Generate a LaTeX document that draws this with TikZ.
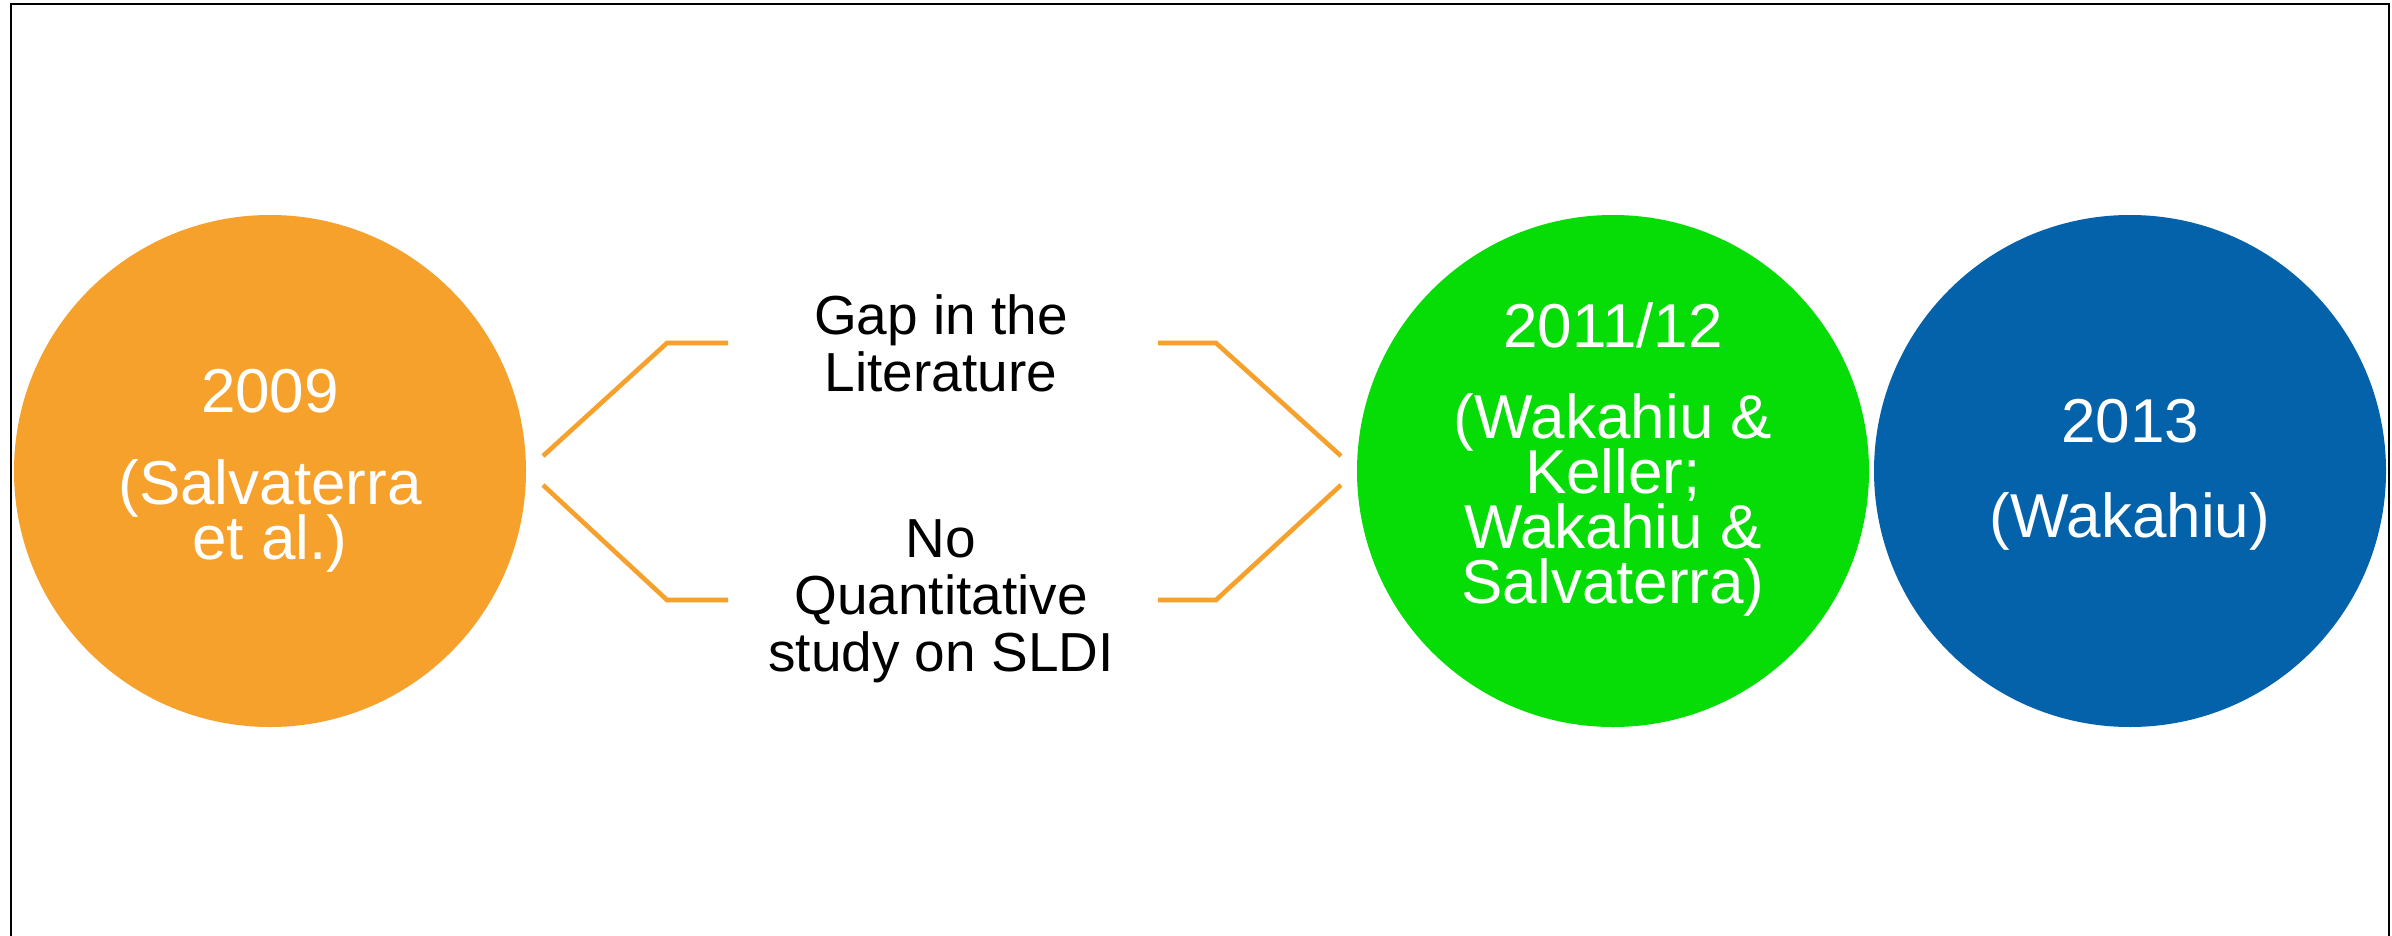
\documentclass[tikz,border=0pt]{standalone}
\usepackage{fontspec}
\setmainfont{Liberation Sans}
\definecolor{amber}{HTML}{F5A12B}
\definecolor{leaf}{HTML}{06DC06}
\definecolor{ocean}{HTML}{0462AB}
% keep line spacing fixed even when lines are tall
\setlength{\lineskiplimit}{-100pt}

\begin{document}
\begin{tikzpicture}[x=0.5pt,y=-0.5pt,
  disc/.style={circle, fill=#1, draw=none, minimum size=256pt, inner sep=0pt},
  disctext/.style={text=white, align=center, font=\fontsize{31}{27.5}\selectfont},
  gaptext/.style={text=black, align=center, font=\fontsize{27.5}{28.5}\selectfont},
  bracket/.style={draw=amber, line width=2.3pt},
  frameline/.style={draw=black, line width=1.2pt}]

% canvas and open frame
\useasboundingbox (0,0) rectangle (2392,936);
\fill[white] (0,0) rectangle (2392,936);
\draw[frameline] (11,936) -- (11,4) -- (2389,4) -- (2389,936);

% timeline discs
\node[disc=amber] (c2009) at (270,471) {};
\node[disc=leaf]  (c2011) at (1613,471) {};
\node[disc=ocean] (c2013) at (2130,471) {};

\node[disctext] (t2009) at (270,471) {2009\\[18.5pt](Salvaterra\\et al.)};
\node[disctext] (t2011) at (1613,459) {2011/12\\[18pt](Wakahiu \&\\Keller;\\Wakahiu \&\\Salvaterra)};
\node[disctext] (t2013) at (2130,475) {2013\\[20pt](Wakahiu)};

% the two findings between the discs
\node[gaptext] (gap)   at (941,343) {Gap in the\\Literature};
\node[gaptext] (quant) at (941,601) {No\\Quantitative\\study on SLDI};

% bracket end points
\coordinate (lu) at (543,456);
\coordinate (ld) at (543,485);
\coordinate (lue) at (667,343);
\coordinate (lde) at (667,600);
\coordinate (lut) at (728,343);
\coordinate (ldt) at (728,600);
\coordinate (ru) at (1341,456);
\coordinate (rd) at (1341,485);
\coordinate (rue) at (1216,343);
\coordinate (rde) at (1216,600);
\coordinate (rut) at (1158,343);
\coordinate (rdt) at (1158,600);

\draw[bracket] (lu) -- (lue) -- (lut);
\draw[bracket] (ld) -- (lde) -- (ldt);
\draw[bracket] (rut) -- (rue) -- (ru);
\draw[bracket] (rdt) -- (rde) -- (rd);
\end{tikzpicture}
\end{document}
